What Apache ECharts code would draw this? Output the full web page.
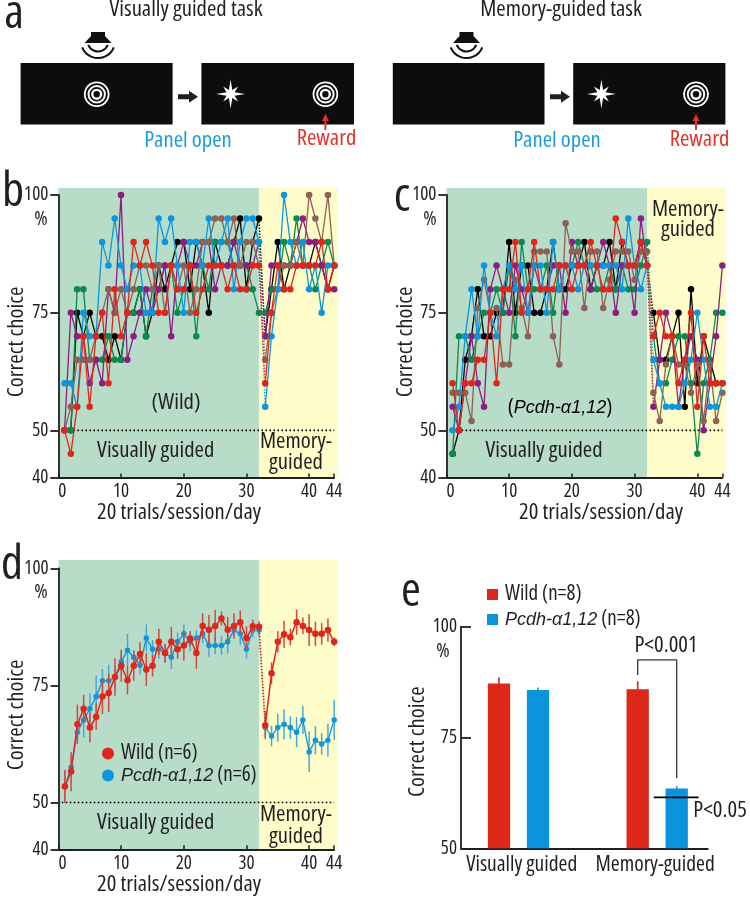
<!DOCTYPE html>
<html><head><meta charset="utf-8">
<style>html,body{margin:0;padding:0;background:#fff}#c{width:750px;height:898px}</style>
<script src="https://cdn.jsdelivr.net/npm/echarts@6/dist/echarts.min.js"></script>
</head><body><div id="c"></div>
<script>
const FONT='"Open Sans","Liberation Sans",sans-serif';
const NARROW='condensed';
const INK='#231f20';
const COLORS={black:'#000000',green:'#0a8a4e',purple:'#8c1d82',brown:'#8d6153',blue:'#0b96de',red:'#e1251b'};
const yTicks=[40,50,75,100];
const xTicks=[0,10,20,30,40,44];
const bands=[[0,32,'#b7dcc8'],[32,44.6,'#fefcc8']];

const bBlack=[50,50,75,70,75,70,70,65,70,65,75,75,80,70,75,85,80,85,90,90,80,90,85,75,90,85,85,90,95,80,90,95,70,80,90,80,85,85,85,85,90,85,80,85];
const bGreen=[50,50,80,80,65,65,65,70,65,65,75,75,80,70,80,80,85,85,75,80,85,70,85,80,90,90,90,85,85,85,80,75,75,80,80,90,85,95,85,85,80,85,90,85];
const bPurple=[50,75,70,70,60,65,60,80,75,100,65,70,75,80,75,80,85,70,85,90,85,85,90,90,80,85,85,90,85,85,85,90,70,85,85,85,85,90,95,90,90,85,80,80];
const bBrown=[50,55,65,65,65,70,75,80,75,80,75,80,85,85,80,85,75,85,80,85,75,80,90,90,95,95,90,95,85,90,90,85,65,75,80,85,85,90,85,100,95,90,100,85];
const bBlue=[60,60,55,75,70,70,90,85,95,85,80,85,85,75,75,95,90,95,85,75,90,90,85,95,85,90,95,80,90,95,95,90,55,70,80,100,90,85,90,80,85,75,85,85];
const bRed=[50,45,55,70,55,70,75,60,80,70,75,90,85,90,85,75,75,85,80,80,85,75,80,85,85,85,80,85,80,80,85,85,60,75,85,80,80,85,85,85,85,90,80,85];

const cBlack=[45,50,65,70,80,70,70,75,75,90,75,85,85,75,75,80,90,80,80,85,85,90,80,85,85,90,80,90,85,85,90,85,75,65,65,70,75,55,80,60,70,65,60,60];
const cGreen=[45,70,70,65,70,75,75,80,75,85,70,90,80,80,80,85,75,85,85,85,90,85,85,80,80,85,80,85,80,80,85,90,70,60,60,65,70,70,60,45,60,65,75,75];
const cPurple=[55,50,60,70,60,55,80,85,80,75,85,80,75,85,80,80,85,85,75,90,85,85,80,85,90,85,75,85,85,75,95,85,55,65,75,70,55,65,70,65,50,60,70,85];
const cBrown=[58,58,58,52,76,82,75,76,64,64,82,76,70,88,88,88,70,64,94,88,88,76,88,88,76,82,88,88,88,82,88,88,58,52,64,70,64,64,58,64,52,64,52,58];
const cBlue=[50,55,70,80,70,85,75,70,80,85,80,85,75,85,85,75,90,80,85,85,80,85,85,85,85,85,85,80,95,85,80,85,65,60,55,55,55,60,65,75,65,55,55,60];
const cRed=[60,50,60,60,65,65,75,60,80,80,90,75,80,90,80,80,80,85,85,80,85,85,90,85,80,80,95,90,85,85,90,85,70,75,70,70,60,65,75,55,70,60,60,60];

const dWild=[53.4,56.6,66.7,70,66,68.3,72.6,73.4,76.8,79.2,76.1,79.2,81.7,78.4,79.2,84.3,81.9,84.3,82.7,83.5,85,81.9,87.7,86.9,87.7,89.3,86.9,87.7,88.5,85.1,87.6,87.5,66.5,77.6,84.3,85.9,85.3,88.5,87.7,86.8,86,86,86.8,84.3];
const dWildErr=[3.5,4.2,4.2,3,3.2,2.8,3.7,4.1,4,3.4,3,3.2,2.5,3.5,2.3,2.8,2,3.2,2,3.2,1.6,3.4,2.7,3.2,3.4,1.5,2.7,2.7,2.5,2.5,1.4,1.2,3,2.3,2.3,2.9,1.8,2.7,1.8,3.4,2.6,2.3,2.5,0.9];
const dMutant=[53.5,57.5,65,67.6,70,72.6,76,76,76.8,80.1,82.5,81,79.3,85.1,82.7,82.7,81.8,81,84.3,86,84.3,85.1,86,83.5,83.5,83.5,84.3,86.8,86,82.7,86.8,86.8,66,64.2,66,66.7,66,65,67.6,60.8,63.3,62.5,63.3,67.6];
const dMutantErr=[3.5,2,2,3.7,3.3,4.5,2.5,3.4,2.5,2,3.5,1.5,2,2.9,2,2,2,2.5,2,2,2,1.7,2,2.4,1.8,2,2.5,1.4,2.4,2,1.5,1.2,2,2.2,3,3.2,2.4,3.2,3,4.3,3,2.3,3.5,4.2];

const eCategories=['Visually guided','Memory-guided'];
const eWild=[87.2,85.9];
const eWildErr=[1.4,1.8];
const eMutant=[85.7,63.5];
const eMutantErr=[0.6,0.5];
const eGroupX=[0.4146,1.4146];
const eLabelX=[0.4376,1.4];
const eBarShift=0.1406;
const WILD8='Wild (n=8)',MUT8='Pcdh-α1,12 (n=8)',WILD6='Wild (n=6)',MUT6='Pcdh-α1,12 (n=6)';

const grids=[],xAxes=[],yAxes=[],series=[];
function axisStyle(){return {lineStyle:{color:INK,width:1.8}};}
const tickFont={color:INK,fontFamily:FONT,fontWeight:NARROW,fontSize:19};
function panelGrids(left,width,top,bottom,bgTop,bgWidth){
  const i=grids.length;
  grids.push({left,top:bgTop,width:bgWidth,height:bottom-bgTop});
  xAxes.push({gridIndex:i,type:'value',min:0,max:bgWidth/(width/44),show:false});
  yAxes.push({gridIndex:i,type:'value',min:40,max:40+(bottom-bgTop)/((bottom-top)/60),show:false});
  series.push({type:'custom',xAxisIndex:i,yAxisIndex:i,z:0,silent:true,clip:false,data:bands.map(b=>[b[0],b[1],40,yAxes[i].max,b[2]]),
    encode:{x:[0,1],y:[2,3]},
    renderItem(p,api){const a=api.coord([api.value(0),api.value(2)]),c=api.coord([api.value(1),api.value(3)]);
      return {type:'rect',shape:{x:a[0],y:c[1],width:c[0]-a[0],height:a[1]-c[1]},style:{fill:bands[p.dataIndex][2]}};}});
  const m=i+1;
  grids.push({left,top,width,height:bottom-top});
  xAxes.push({gridIndex:m,type:'value',min:0,max:44,axisLine:{onZero:false,...axisStyle()},splitLine:{show:false},
    axisTick:{customValues:xTicks,inside:true,length:4,lineStyle:{color:INK,width:1.5}},
    axisLabel:{customValues:xTicks,alignMinLabel:'left',...tickFont,margin:5}});
  yAxes.push({gridIndex:m,type:'value',min:40,max:100,axisLine:{onZero:false,...axisStyle()},splitLine:{show:false},
    axisTick:{customValues:yTicks,length:8,lineStyle:{color:INK,width:1.8}},
    axisLabel:{customValues:yTicks,...tickFont,margin:10}});
  series.push({type:'line',xAxisIndex:m,yAxisIndex:m,z:3,silent:true,symbol:'none',data:[[0.5,50],[44,50]],
    lineStyle:{color:'#000',width:1.6,type:[1.6,2.4]}});
  return m;
}
function addRun(m,name,values,color,lw,sym,z){
  const pts=values.map((v,i)=>[i+1,v]);
  series.push({type:'line',name,xAxisIndex:m,yAxisIndex:m,z,silent:true,symbol:'none',data:pts.slice(31,33),
    itemStyle:{color},lineStyle:{color,width:lw,type:[1.4,1.6]}});
  [pts.slice(0,32),pts.slice(32)].forEach(seg=>series.push({type:'line',name,xAxisIndex:m,yAxisIndex:m,z,silent:true,
    symbol:'circle',symbolSize:sym,showSymbol:true,showAllSymbol:true,data:seg,
    itemStyle:{color},lineStyle:{color,width:lw}}));
}
function addErr(xi,yi,xs,vals,errs,color,z,w){
  series.push({type:'custom',xAxisIndex:xi,yAxisIndex:yi,z,silent:true,
    data:vals.map((v,i)=>[xs(i),v,errs[i]]),encode:{x:0,y:1},
    renderItem(p,api){const x=api.value(0),v=api.value(1),e=api.value(2);
      const a=api.coord([x,v-e]),b=api.coord([x,v+e]);
      return {type:'line',shape:{x1:a[0],y1:a[1],x2:b[0],y2:b[1]},style:{stroke:color,lineWidth:w}};}});
}
const gb=panelGrids(58.3,275.9,195,477.4,188,279);
[[bBlack,'black'],[bGreen,'green'],[bPurple,'purple'],[bBrown,'brown'],[bBlue,'blue'],[bRed,'red']].forEach((s,i)=>addRun(gb,'b-'+s[1],s[0],COLORS[s[1]],1.3,6.5,5+i));
const gc=panelGrids(446.4,276,195,477.4,188,279.6);
[[cBlack,'black'],[cGreen,'green'],[cPurple,'purple'],[cBrown,'brown'],[cBlue,'blue'],[cRed,'red']].forEach((s,i)=>addRun(gc,'c-'+s[1],s[0],COLORS[s[1]],1.3,6.5,5+i));
const gd=panelGrids(58.6,275.6,568.3,849.3,560,278.8);
addErr(gd,gd,i=>i+1,dMutant,dMutantErr,'#4aa7dd',4,1.5);
addRun(gd,MUT6,dMutant,COLORS.blue,1.3,5.5,5);
addErr(gd,gd,i=>i+1,dWild,dWildErr,'#d8463d',6,1.5);
addRun(gd,WILD6,dWild,COLORS.red,1.5,6.5,7);

// panel e
const ge=grids.length;
grids.push({left:461,top:626.7,width:246.7,height:221.6});
xAxes.push({gridIndex:ge,type:'value',min:0,max:246.7/138.7,splitLine:{show:false},axisLine:{onZero:false,...axisStyle()},axisTick:{show:false},
  axisLabel:{customValues:eLabelX,formatter:v=>v<1?eCategories[0]:eCategories[1],...tickFont,fontSize:21.5,margin:6,hideOverlap:false}});
yAxes.push({gridIndex:ge,type:'value',min:50,max:100,splitLine:{show:false},axisLine:{onZero:false,...axisStyle()},
  axisTick:{customValues:[50,75,100],inside:true,length:10,lineStyle:{color:INK,width:1.8}},
  axisLabel:{customValues:[50,75,100],...tickFont,margin:4}});
addErr(ge,ge,i=>eGroupX[i]-eBarShift,eWild,eWildErr,COLORS.red,3,1.6);
addErr(ge,ge,i=>eGroupX[i]+eBarShift,eMutant,eMutantErr,COLORS.blue,3,1.6);
series.push({type:'bar',name:WILD8,xAxisIndex:ge,yAxisIndex:ge,z:4,silent:true,barWidth:22.3,barGap:'75%',data:eWild.map((v,i)=>[eGroupX[i],v]),itemStyle:{color:'#dd2719'}});
series.push({type:'bar',name:MUT8,xAxisIndex:ge,yAxisIndex:ge,z:4,silent:true,barWidth:22.3,barGap:'75%',data:eMutant.map((v,i)=>[eGroupX[i],v]),itemStyle:{color:'#0a94dc'}});
series.push({type:'line',xAxisIndex:ge,yAxisIndex:ge,z:6,silent:true,symbol:'none',
  data:[[eGroupX[1]-eBarShift,89.1],[eGroupX[1]-eBarShift,92.5],[eGroupX[1]+eBarShift,92.5],[eGroupX[1]+eBarShift,65.8]],lineStyle:{color:'#333',width:1.3}});
series.push({type:'line',xAxisIndex:ge,yAxisIndex:ge,z:6,silent:true,symbol:'none',
  data:[[eGroupX[1]-0.025,61.5],[eGroupX[1]+0.298,61.5]],lineStyle:{color:'#000',width:1.8}});

// text & schematic
const g=[];
function txt(x,y,s,o={}){g.push({type:'text',x,y,rotation:o.rot||0,scaleX:o.sx||1.08,z:50,silent:true,style:{text:s,fill:o.color||INK,font:`normal ${NARROW} ${o.size||21}px ${FONT}`,textAlign:o.align||'center',textVerticalAlign:'middle'}});}
const richI={i:{fontStyle:'italic',fontFamily:'"Liberation Sans",sans-serif',fontSize:18,color:INK,lineHeight:14},n:{fontFamily:FONT,fontWeight:NARROW,fontSize:21,color:INK,lineHeight:14}};
// panel letters
[['a',14,14],['b',13,192],['c',402,197],['d',12,565],['e',411,592]].forEach(l=>txt(l[1],l[2],l[0],{size:48,sx:1}));
txt(186,10,'Visually guided task');txt(561,10,'Memory-guided task');
txt(188,141,'Panel open',{color:'#1b9ce0'});txt(557,141,'Panel open',{color:'#1b9ce0'});
txt(326.5,139,'Reward',{color:'#e3322b'});txt(699.5,140,'Reward',{color:'#e3322b'});
function rect(x,y,w,h,fill){g.push({type:'rect',z:40,silent:true,shape:{x,y,width:w,height:h},style:{fill}});}
rect(20.6,63,152,61.5,'#0d0d0d');rect(201.4,63,152.6,61.5,'#0d0d0d');rect(392.8,63,151.7,61.5,'#0d0d0d');rect(573.2,63,152.2,61.5,'#0d0d0d');
function target(cx,cy){[[12.8,'#fff'],[11,'#0d0d0d'],[9.2,'#fff'],[7.2,'#0d0d0d'],[5.6,'#fff'],[3.2,'#0d0d0d']].forEach(r=>g.push({type:'circle',z:41,silent:true,shape:{cx,cy,r:r[0]},style:{fill:r[1]}}));}
target(96.7,94.3);target(325.4,94.3);target(696,94.3);
function star(cx,cy){const pts=[];for(let i=0;i<16;i++){const a=i*Math.PI/8,r=i%2?4.4:(i%4?10.5:14.5);pts.push([cx+r*Math.sin(a),cy-r*Math.cos(a)]);}
  g.push({type:'polygon',z:41,silent:true,shape:{points:pts},style:{fill:'#fff'}});}
star(230.6,94);star(601.4,94);
function blackArrow(x,y){g.push({type:'polygon',z:41,silent:true,shape:{points:[[x,y-2.5],[x+11,y-2.5],[x+11,y-6],[x+20,y],[x+11,y+6],[x+11,y+2.5],[x,y+2.5]]},style:{fill:'#231f20'}});}
blackArrow(178,96.7);blackArrow(550,96.7);
function redArrow(x){g.push({type:'polygon',z:41,silent:true,shape:{points:[[x,114],[x+3.5,121],[x+1,121],[x+1,130],[x-1,130],[x-1,121],[x-3.5,121]]},style:{fill:'#e3322b'}});}
redArrow(325.4);redArrow(696);
function speaker(cx){g.push({type:'polygon',z:41,silent:true,shape:{points:[[cx-7,32],[cx+7,32],[cx+7,36],[cx+13.5,43],[cx-13.5,43],[cx-7,36]]},style:{fill:'#111'}});
  [10.5,17].forEach(r=>g.push({type:'arc',z:41,silent:true,shape:{cx,cy:41,r,startAngle:Math.PI*0.12,endAngle:Math.PI*0.88},style:{stroke:'#111',lineWidth:2,fill:null}}));}
speaker(98);speaker(466.5);
// annotations
txt(176,403,'(Wild)');txt(155.7,451,'Visually guided');txt(296,441.7,'Memory-');txt(296,463,'guided');
g.push({type:'text',x:560,y:408,z:50,silent:true,style:{text:'{n|(}{i|Pcdh-α1,12}{n|)}',font:`normal ${NARROW} 21px ${FONT}`,textAlign:'center',textVerticalAlign:'middle',rich:richI}});
txt(544,451,'Visually guided');txt(688,210,'Memory-');txt(688,230,'guided');
txt(155.7,823,'Visually guided');txt(296,815,'Memory-');txt(296,837,'guided');
txt(179,513,'20 trials/session/day');txt(601,513,'20 trials/session/day');txt(179,885,'20 trials/session/day');
[[17,342],[405.7,342],[17,715],[418,741.7]].forEach(p=>txt(p[0],p[1],'Correct choice',{rot:Math.PI/2}));
[[41,220],[430,220],[41,592.7],[443,651.7]].forEach(p=>txt(p[0],p[1],'%',{size:19}));
txt(666,646.5,'P<0.001');txt(720,811.5,'P<0.05');

const legendFmt=n=>{const m=n.match(/^(Pcdh-α1,12)(.*)$/);return m?`{i|${m[1]}}{n|${m[2]}}`:`{n|${n}}`;};
const chart=echarts.init(document.getElementById('c'),null,{renderer:'canvas'});
chart.setOption({animation:false,backgroundColor:'#fff',textStyle:{fontFamily:FONT},
  grid:grids,xAxis:xAxes,yAxis:yAxes,series,graphic:g,
  legend:[
    {data:[WILD6,MUT6],orient:'vertical',left:102,top:743,padding:0,icon:'circle',itemWidth:12,itemHeight:12,itemGap:1,selectedMode:false,lineStyle:{width:0},formatter:legendFmt,textStyle:{rich:richI,color:INK,padding:[0,0,0,2]}},
    {data:[WILD8,MUT8],orient:'vertical',left:487,top:584,padding:0,icon:'rect',itemWidth:11,itemHeight:11,itemGap:4,selectedMode:false,formatter:legendFmt,textStyle:{rich:richI,color:INK,padding:[0,0,0,2]}}
  ]});
</script></body></html>
